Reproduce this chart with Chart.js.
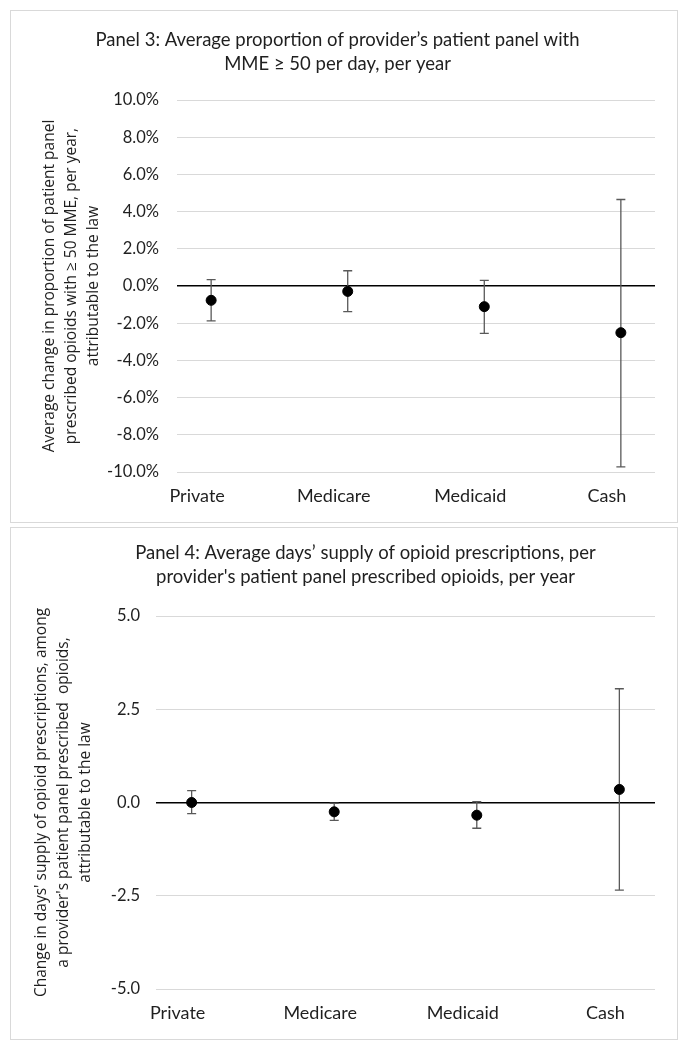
<!DOCTYPE html>
<html>
<head>
<meta charset="utf-8">
<script src="https://cdn.jsdelivr.net/npm/chart.js@4.4.1/dist/chart.umd.min.js"></script>
<style>
  body { margin: 0; background: #fff; }
  .panel { position: absolute; left: 10px; width: 666px; height: 511px; border: 1px solid #d9d9d9; }
  #p3 { top: 10px; }
  #p4 { top: 527px; }
</style>
</head>
<body>
<div class="panel" id="p3"><canvas id="c3"></canvas></div>
<div class="panel" id="p4"><canvas id="c4"></canvas></div>
<script>
const categories = ["Private", "Medicare", "Medicaid", "Cash"];

// Panel 3: change in share of panel with MME >= 50 (percent)
const mmeEstimate = [-0.77, -0.29, -1.11, -2.51];
const mmeLower = [-1.87, -1.38, -2.55, -9.72];
const mmeUpper = [0.34, 0.82, 0.30, 4.65];

// Panel 4: change in days' supply
const daysEstimate = [0.0, -0.25, -0.34, 0.35];
const daysLower = [-0.30, -0.48, -0.69, -2.35];
const daysUpper = [0.32, -0.02, 0.02, 3.05];

const textColor = "#1f1f1f";
const labelFont = "Lato, 'Liberation Sans', sans-serif";
const axisTitleFont = "'Open Sans', 'Noto Sans', sans-serif";

// simple error bar drawing, under the points
const errorBars = {
  id: "errorBars",
  beforeDatasetsDraw(chart, args, opts) {
    const {ctx, scales: {x, y}} = chart;
    ctx.save();
    ctx.strokeStyle = "#595959";
    ctx.lineWidth = 1.3;
    opts.lower.forEach((lo, i) => {
      const px = x.getPixelForValue(i);
      const yl = y.getPixelForValue(lo);
      const yu = y.getPixelForValue(opts.upper[i]);
      ctx.beginPath();
      ctx.moveTo(px, yu); ctx.lineTo(px, yl);
      ctx.moveTo(px - 4.5, yu); ctx.lineTo(px + 4.5, yu);
      ctx.moveTo(px - 4.5, yl); ctx.lineTo(px + 4.5, yl);
      ctx.stroke();
    });
    ctx.restore();
  }
};

function makeChart(id, cfg) {
  return new Chart(id, {
    type: "scatter",
    data: {
      datasets: [{
        data: cfg.values.map((v, i) => ({x: i, y: v})),
        backgroundColor: "#000",
        borderColor: "#000",
        pointRadius: 5,
        pointHoverRadius: 5
      }]
    },
    plugins: [errorBars],
    options: {
      responsive: true,
      maintainAspectRatio: false,
      animation: false,
      layout: {padding: {left: cfg.padLeft, right: 22, top: 0, bottom: 0}},
      plugins: {
        legend: {display: false},
        tooltip: {enabled: false},
        title: {
          display: true,
          text: cfg.title,
          color: textColor,
          font: {family: labelFont, size: 18.5, weight: "normal", lineHeight: "24px"},
          padding: cfg.titlePad
        },
        errorBars: {lower: cfg.lower, upper: cfg.upper}
      },
      scales: {
        x: {
          type: "linear",
          min: -0.25,
          max: 3.25,
          afterBuildTicks: s => { s.ticks = categories.map((c, i) => ({value: i})); },
          afterFit: s => { s.height = 50; },
          grid: {display: false, drawTicks: false},
          border: {display: false},
          ticks: {
            callback: v => categories[v],
            color: textColor,
            font: {family: labelFont, size: 18},
            padding: 13,
            labelOffset: -14,
            maxRotation: 0
          }
        },
        y: {
          min: cfg.min,
          max: cfg.max,
          afterFit: s => { s.width = cfg.axisWidth; },
          grid: {
            drawTicks: false,
            color: c => c.tick.value === 0 ? "#000" : "#d9d9d9",
            lineWidth: c => c.tick.value === 0 ? 1.5 : 1
          },
          border: {display: false},
          ticks: {
            stepSize: cfg.step,
            callback: cfg.fmt,
            color: textColor,
            font: {family: labelFont, size: 16.5},
            padding: cfg.tickPad
          },
          title: {
            display: true,
            text: cfg.yTitle,
            color: textColor,
            font: {family: axisTitleFont, size: 15.5, lineHeight: "22px"},
            padding: {top: cfg.yTitleTop, bottom: 0}
          }
        }
      }
    }
  });
}

makeChart("c3", {
  title: ["Panel 3: Average proportion of provider\u2019s patient panel with", "MME \u2265 50 per day, per year"],
  titlePad: {top: 17, bottom: 24},
  values: mmeEstimate, lower: mmeLower, upper: mmeUpper,
  min: -10, max: 10, step: 2,
  fmt: v => v.toFixed(1) + "%",
  padLeft: 9, axisWidth: 157, tickPad: 18, yTitleTop: 19,
  yTitle: ["Average change in proportion of patient panel",
           "prescribed opioids with \u2265 50 MME, per year,",
           "attributable to the law"]
});

makeChart("c4", {
  title: ["Panel 4: Average days\u2019 supply of opioid prescriptions, per", "provider's patient panel prescribed opioids, per year"],
  titlePad: {top: 13, bottom: 27},
  values: daysEstimate, lower: daysLower, upper: daysUpper,
  min: -5, max: 5, step: 2.5,
  fmt: v => v.toFixed(1),
  padLeft: 65, axisWidth: 80, tickPad: 16, yTitleTop: -45,
  yTitle: ["Change in days' supply of opioid prescriptions, among",
           "a provider's patient panel prescribed  opioids,",
           "attributable to the law"]
});
</script>
</body>
</html>
